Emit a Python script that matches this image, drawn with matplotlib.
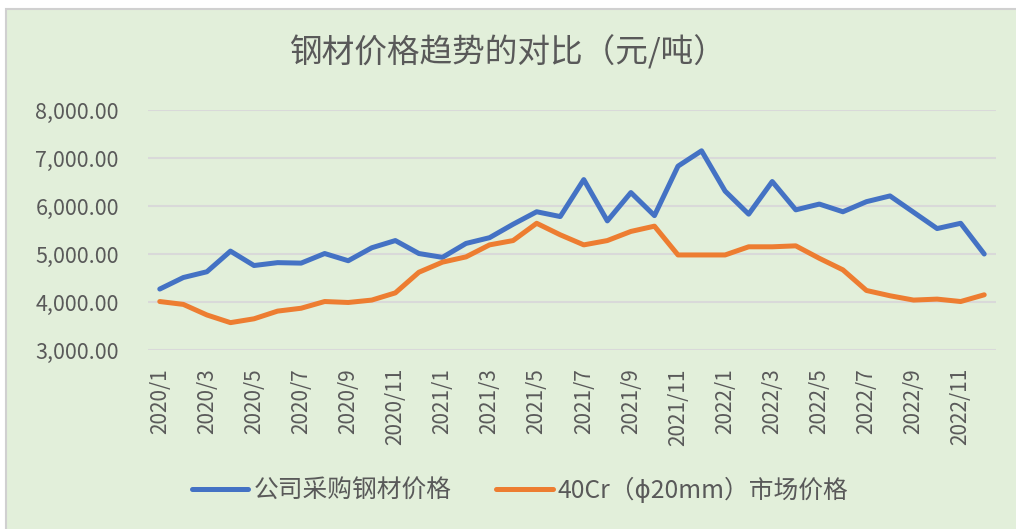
import matplotlib.pyplot as plt
from matplotlib.patches import Rectangle
from matplotlib.ticker import FuncFormatter

plt.rcParams['font.family'] = ['Noto Sans CJK SC', 'DejaVu Sans']

months = [f'{y}/{m}' for y in (2020, 2021, 2022) for m in range(1, 13)]

company = [4270, 4510, 4630, 5060, 4760, 4820, 4810, 5010, 4860, 5130, 5280, 5010,
           4930, 5220, 5340, 5620, 5880, 5780, 6550, 5690, 6280, 5800, 6830, 7150,
           6310, 5830, 6510, 5920, 6040, 5880, 6090, 6210, 5870, 5530, 5640, 5000]
market = [4010, 3950, 3730, 3570, 3650, 3810, 3870, 4010, 3990, 4040, 4190, 4620,
          4830, 4940, 5190, 5280, 5640, 5400, 5190, 5280, 5470, 5580, 4980, 4980,
          4980, 5150, 5150, 5170, 4910, 4670, 4240, 4130, 4040, 4060, 4010, 4150]

label_company = '公司采购钢材价格'
label_market = '40Cr（ϕ20mm）市场价格'
title = '钢材价格趋势的对比（元/吨）'

bg = '#E2EFDA'
txt = '#595959'

fig = plt.figure(figsize=(10.16, 5.29), dpi=100)
fig.patch.set_facecolor('white')
fig.patches.append(Rectangle((6 / 1016, -0.05), 1.1, 1 - 9 / 529 + 0.05,
                             transform=fig.transFigure, facecolor=bg,
                             edgecolor='#D0D0D0', linewidth=1.5, zorder=-10))

ax = fig.add_axes([148 / 1016, 1 - 350 / 529, (996 - 148) / 1016, 240 / 529])
ax.set_facecolor('none')

x = list(range(len(months)))
ax.plot(x, company, color='#4472C4', lw=3.6, solid_capstyle='round',
        solid_joinstyle='round', label=label_company, zorder=3)
ax.plot(x, market, color='#ED7D31', lw=3.6, solid_capstyle='round',
        solid_joinstyle='round', label=label_market, zorder=3)

ax.set_xlim(-0.5, len(months) - 0.5)
ax.set_ylim(3000, 8000)
ax.set_yticks(range(3000, 8001, 1000))
ax.yaxis.set_major_formatter(FuncFormatter(lambda v, p: f'{v:,.2f}'))
ax.set_xticks(x[::2])
ax.set_xticklabels(months[::2], rotation=90)
ax.grid(axis='y', color='#D9D9D9', lw=1.5, zorder=0)
for s in ax.spines.values():
    s.set_visible(False)
ax.tick_params(axis='both', length=0, colors=txt)
ax.tick_params(axis='y', pad=21, labelsize=15.5)
ax.tick_params(axis='x', pad=13, labelsize=15)

fig.text(0.5, 1 - 52 / 529, title, ha='center', va='center', fontsize=23.5, color=txt)

leg = fig.legend(loc='center', bbox_to_anchor=(520 / 1016, 1 - 491 / 529), ncol=2,
                 frameon=False, fontsize=17.8, handlelength=2.3, handletextpad=0.2,
                 columnspacing=1.8)
for t in leg.get_texts():
    t.set_color(txt)

fig.savefig('out.png', dpi=100)
